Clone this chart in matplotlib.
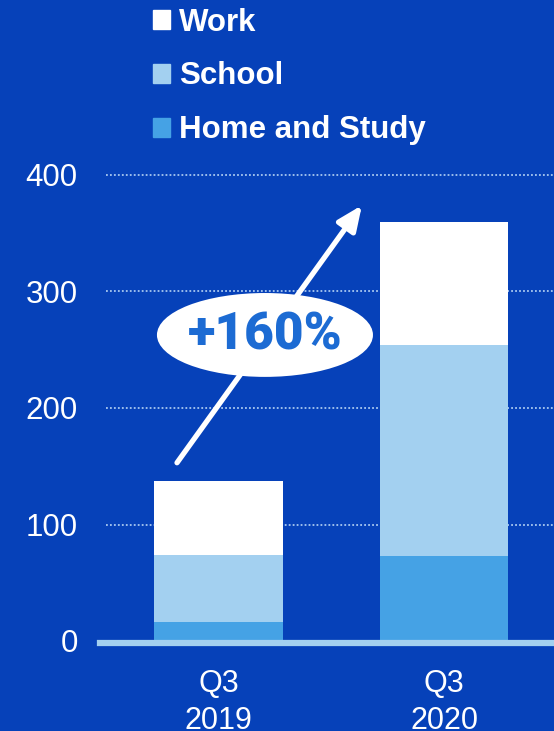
import numpy as np
import matplotlib.pyplot as plt
from matplotlib.patches import Ellipse, Patch

quarters = ["Q3\n2019", "Q3\n2020"]
home_study = [16, 73]
school = [58, 181]
work = [63, 106]
growth_label = "+160%"

bg = "#0641B9"
c_home = "#45A2E5"
c_school = "#A3D0F0"
c_work = "#FFFFFF"

plt.rcParams["font.family"] = ["Liberation Sans", "DejaVu Sans"]

fig = plt.figure(figsize=(5.54, 7.31), dpi=100, facecolor=bg)
ax = fig.add_axes([100 / 554, 90 / 731, 454 / 554, 420 * 1.165 / 731])
ax.set_facecolor(bg)

x = np.arange(len(quarters))
home_study = np.array(home_study)
school = np.array(school)
work = np.array(work)

ax.bar(x, home_study, width=0.572, color=c_home, zorder=3)
ax.bar(x, school, width=0.572, bottom=home_study, color=c_school, zorder=3)
ax.bar(x, work, width=0.572, bottom=home_study + school, color=c_work, zorder=3)

ax.set_xlim(-0.5255, 1.4878)
ax.set_ylim(0, 420)

# dotted gridlines
for yv in [100, 200, 300, 400]:
    ax.hlines(yv, -0.50, 1.4878, colors="#A8C8F0", linestyles=(0, (1, 1.2)), linewidth=1.3, zorder=1)
ax.axhline(-1.5, color=c_school, linewidth=4.5, zorder=4, clip_on=False)

for s in ax.spines.values():
    s.set_visible(False)
ax.set_yticks([0, 100, 200, 300, 400])
ax.set_xticks(x)
ax.set_xticklabels(quarters, linespacing=1.3)
ax.tick_params(axis="y", length=0, pad=16, labelsize=22.5, labelcolor="white")
ax.tick_params(axis="x", length=0, pad=20, labelsize=22, labelcolor="white")

# growth arrow and badge
ax.annotate("", xy=(0.636, 374), xytext=(-0.184, 153),
            arrowprops=dict(arrowstyle="-|>,head_length=0.75,head_width=0.33", mutation_scale=20,
                            color="white", lw=3.8, shrinkA=0, shrinkB=0), zorder=5)
ax.add_patch(Ellipse((0.206, 262.7), 0.958, 72, facecolor="white", edgecolor="none", zorder=6))
ax.text(0.206, 262, growth_label, ha="center", va="center", fontsize=37, fontweight="black",
        color="#1C6BD3", family=["Roboto", "DejaVu Sans"], zorder=7)

handles = [Patch(color=c_work, label="Work"),
           Patch(color=c_school, label="School"),
           Patch(color=c_home, label="Home and Study")]
leg = fig.legend(handles=handles, loc="upper left", bbox_to_anchor=(134 / 554, 1 + 11 / 731),
                 frameon=False, prop={"weight": "bold", "size": 22.5}, labelcolor="white",
                 handlelength=0.55, handleheight=0.55, handletextpad=0.3, labelspacing=0.76,
                 borderpad=0.1)

fig.savefig("out.png", dpi=100, facecolor=bg)
